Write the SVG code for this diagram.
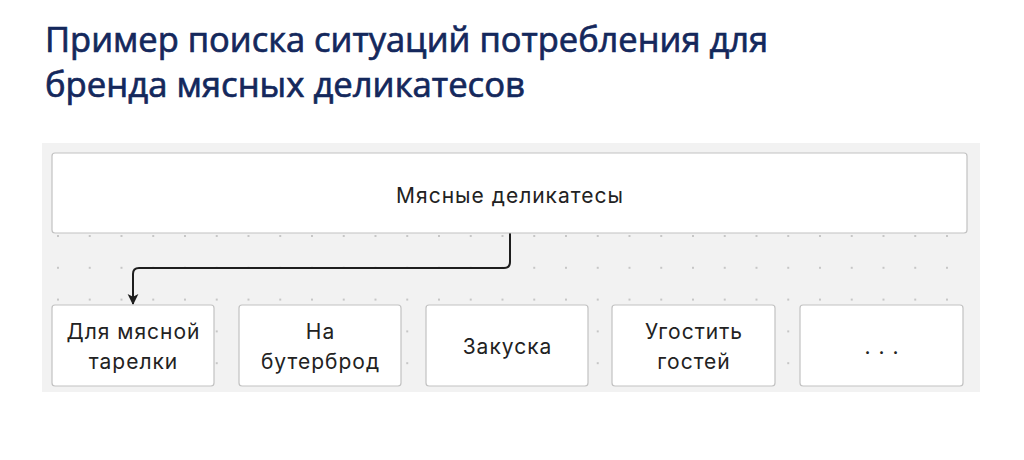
<svg xmlns="http://www.w3.org/2000/svg" width="1024" height="460" viewBox="0 0 1024 460">
<style>
.title{font-family:"Open Sans","Noto Sans",sans-serif;font-size:34px;fill:#14285c;stroke:#14285c;stroke-width:0.7;}
.box{fill:#ffffff;stroke:#c2c2c2;stroke-width:1.2;}
.lbl{font-family:Inter,"Liberation Sans",sans-serif;font-size:21px;letter-spacing:1px;fill:#222222;text-anchor:middle;}
.conn{fill:none;stroke:#1e1e1e;stroke-width:2;}
</style>
<defs>
<pattern id="dots" patternUnits="userSpaceOnUse" x="57" y="235" width="31.75" height="31.8">
<rect x="0" y="0" width="2" height="2" fill="#c6c6c6"/>
</pattern>
<marker id="arrow" viewBox="0 0 10 10" refX="9" refY="5" markerWidth="11" markerHeight="12" orient="auto" markerUnits="userSpaceOnUse" preserveAspectRatio="none">
<path d="M0,0.5 L10,5 L0,9.5 L2.5,5 Z" fill="#1e1e1e"/>
</marker>
</defs>
<rect width="1024" height="460" fill="#ffffff"/>
<g id="title">
<text class="title" x="45" y="52" textLength="723" lengthAdjust="spacingAndGlyphs">Пример поиска ситуаций потребления для</text>
<text class="title" x="45" y="97" textLength="480" lengthAdjust="spacingAndGlyphs">бренда мясных деликатесов</text>
</g>
<g id="panel">
<rect x="42" y="143" width="938" height="249" fill="#f2f2f2"/>
<rect x="52" y="143" width="912" height="249" fill="url(#dots)"/>
</g>
<g id="connectors">
<path class="conn" d="M510,233 V262 Q510,268 504,268 H139 Q133,268 133,274 V304" marker-end="url(#arrow)"/>
</g>
<g id="node-root">
<rect class="box" x="52" y="153" width="915" height="80" rx="3"/>
<text class="lbl" x="510" y="203">Мясные деликатесы</text>
</g>
<g id="node-1">
<rect class="box" x="52" y="305" width="162" height="81" rx="3"/>
<text class="lbl" x="133.5" y="339">Для мясной</text>
<text class="lbl" x="133.5" y="369">тарелки</text>
</g>
<g id="node-2">
<rect class="box" x="239" y="305" width="162" height="81" rx="3"/>
<text class="lbl" x="320.5" y="339">На</text>
<text class="lbl" x="320.5" y="369">бутерброд</text>
</g>
<g id="node-3">
<rect class="box" x="426" y="305" width="162" height="81" rx="3"/>
<text class="lbl" x="507.5" y="354">Закуска</text>
</g>
<g id="node-4">
<rect class="box" x="612" y="305" width="163" height="81" rx="3"/>
<text class="lbl" x="694" y="339">Угостить</text>
<text class="lbl" x="694" y="369">гостей</text>
</g>
<g id="node-5">
<rect class="box" x="800" y="305" width="163" height="81" rx="3"/>
<text class="lbl" x="882" y="354">. . .</text>
</g>
</svg>
